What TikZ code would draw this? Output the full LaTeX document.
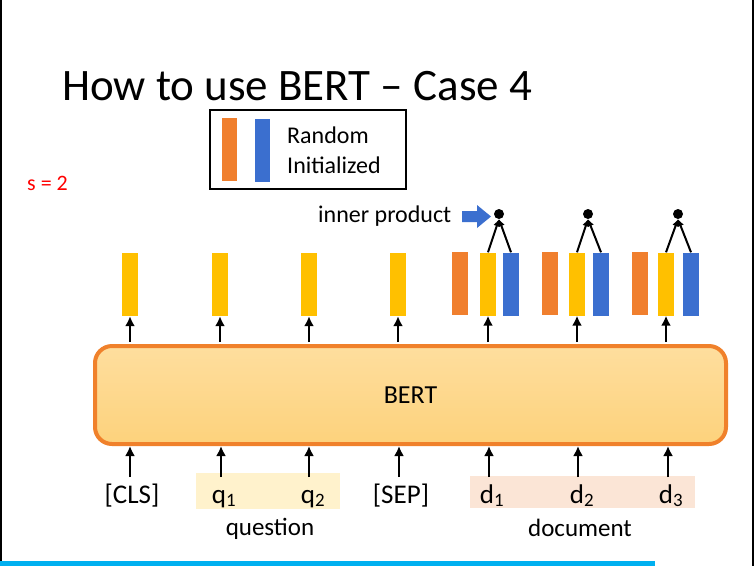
\documentclass[tikz,border=0pt]{standalone}
\usepackage{fontspec}
\setmainfont{Carlito}
\usetikzlibrary{arrows.meta,positioning}
\definecolor{barY}{HTML}{FFC000}
\definecolor{barO}{HTML}{F07F2E}
\definecolor{barB}{HTML}{3B6FCF}
\definecolor{bertBorder}{HTML}{F0812B}
\definecolor{bertTop}{HTML}{FEDE9E}
\definecolor{bertBot}{HTML}{FDD27C}
\definecolor{qFill}{HTML}{FFF2CC}
\definecolor{dFill}{HTML}{FBE5D6}
\definecolor{slideBlue}{HTML}{00B0F0}
\tikzset{
  vbar/.style={rectangle, minimum width=16pt, minimum height=63pt, inner sep=0pt},
  ybar/.style={vbar, fill=barY},
  obar/.style={vbar, fill=barO},
  bbar/.style={vbar, fill=barB},
  arr/.style={line width=2.8pt, -{Latex[length=10pt,width=10pt]}},
  iparr/.style={line width=2pt, -{Latex[length=7pt,width=7pt]}},
  tok/.style={anchor=base, inner sep=0pt, text height=26pt, font=\fontsize{27}{32}\selectfont},
  lbl/.style={anchor=base, inner sep=0pt, font=\fontsize{25}{30}\selectfont},
  dot/.style={circle, fill=black, minimum size=10pt, inner sep=0pt},
}
\begin{document}
\begin{tikzpicture}[x=1pt,y=-1pt]
\useasboundingbox (0,0) rectangle (754,566);
\fill[white] (0,0) rectangle (754,566);
% slide frame
\draw[line width=2pt] (1,0) -- (1,561);
\draw[line width=2pt] (752.5,0) -- (752.5,566);
\fill[slideBlue] (0,561) rectangle (655,566);

% title
\node[anchor=base west, inner sep=0pt, font=\fontsize{45}{54}\selectfont] (title) at (62,100) {How to use BERT – Case 4};

% legend
\node[draw, line width=2pt, minimum width=196pt, minimum height=79pt, inner sep=0pt] (legend) at (308,149.5) {};
\node[obar, minimum width=15pt] (lo) at (229.5,149.5) {};
\node[bbar, minimum width=15pt] (lb) at (262.5,150) {};
\node[anchor=base west, inner sep=0pt, font=\fontsize{24}{29}\selectfont] (lt1) at (287,143) {Random};
\node[anchor=base west, inner sep=0pt, font=\fontsize{24}{29}\selectfont] (lt2) at (287,173) {Initialized};

% s = 2
\node[anchor=base west, inner sep=0pt, text=red, font=\fontsize{22}{26}\selectfont] (s) at (27,190) {s = 2};

% BERT box
\node[draw=bertBorder, line width=4pt, rounded corners=17pt, top color=bertTop, bottom color=bertBot,
      minimum width=631pt, minimum height=98pt, inner sep=0pt, font=\fontsize{26}{31}\selectfont] (bert) at (410.5,395) {BERT};

% output vectors
\node[ybar] (c0) at (130,284.5) {};
\node[ybar] (c1) at (220,284.5) {};
\node[ybar] (c2) at (309,284.5) {};
\node[ybar] (c3) at (398,284.5) {};
\node[obar] (o1) at (460,283) {};
\node[ybar] (y1) at (488,284) {};
\node[bbar] (b1) at (511,284) {};
\node[obar] (o2) at (550,283) {};
\node[ybar] (y2) at (577,284) {};
\node[bbar] (b2) at (601,284) {};
\node[obar] (o3) at (640,283) {};
\node[ybar] (y3) at (666,284) {};
\node[bbar] (b3) at (691,284) {};

\foreach \n in {c0,c1,c2,c3,y1,y2,y3}{
  \draw[arr] (bert.north -| \n) ++(0,-2) -- (\n.south);
}

% inner product dots
\node[dot] (p1) at (499,214) {};
\node[dot] (p2) at (588,214) {};
\node[dot] (p3) at (678,214) {};
\foreach \y/\b/\p in {y1/b1/p1,y2/b2/p2,y3/b3/p3}{
  \draw[iparr] (\y.north) -- (\p.south);
  \draw[iparr] (\b.north) -- (\p.south);
}
\node[anchor=base west, inner sep=0pt, font=\fontsize{24}{29}\selectfont] (ip) at (318,222) {inner product};
\fill[barB] (462,211) -- (477,211) -- (477,205) -- (491,216.5) -- (477,228) -- (477,222) -- (462,222) -- cycle;

% input highlight
\fill[qFill] (196,473) rectangle (340,509);
\fill[dFill] (470,476) rectangle (695,508);

% input tokens
\node[tok] (tcls) at (132,503) {[CLS]};
\node[tok] (tq1) at (224,503) {q\textsubscript{1}};
\node[tok] (tq2) at (313,503) {q\textsubscript{2}};
\node[tok] (tsep) at (401,503) {[SEP]};
\node[tok] (td1) at (492,503) {d\textsubscript{1}};
\node[tok] (td2) at (582,503) {d\textsubscript{2}};
\node[tok] (td3) at (671,503) {d\textsubscript{3}};

\foreach \n/\x in {tcls/130,tq1/221,tq2/309,tsep/399,td1/489,td2/578,td3/668}{
  \coordinate (s\n) at (\x,477);
  \draw[arr] (s\n) -- (\x,446);
}

\node[lbl] (question) at (270,535) {question};
\node[lbl] (document) at (580,536) {document};
\end{tikzpicture}
\end{document}
